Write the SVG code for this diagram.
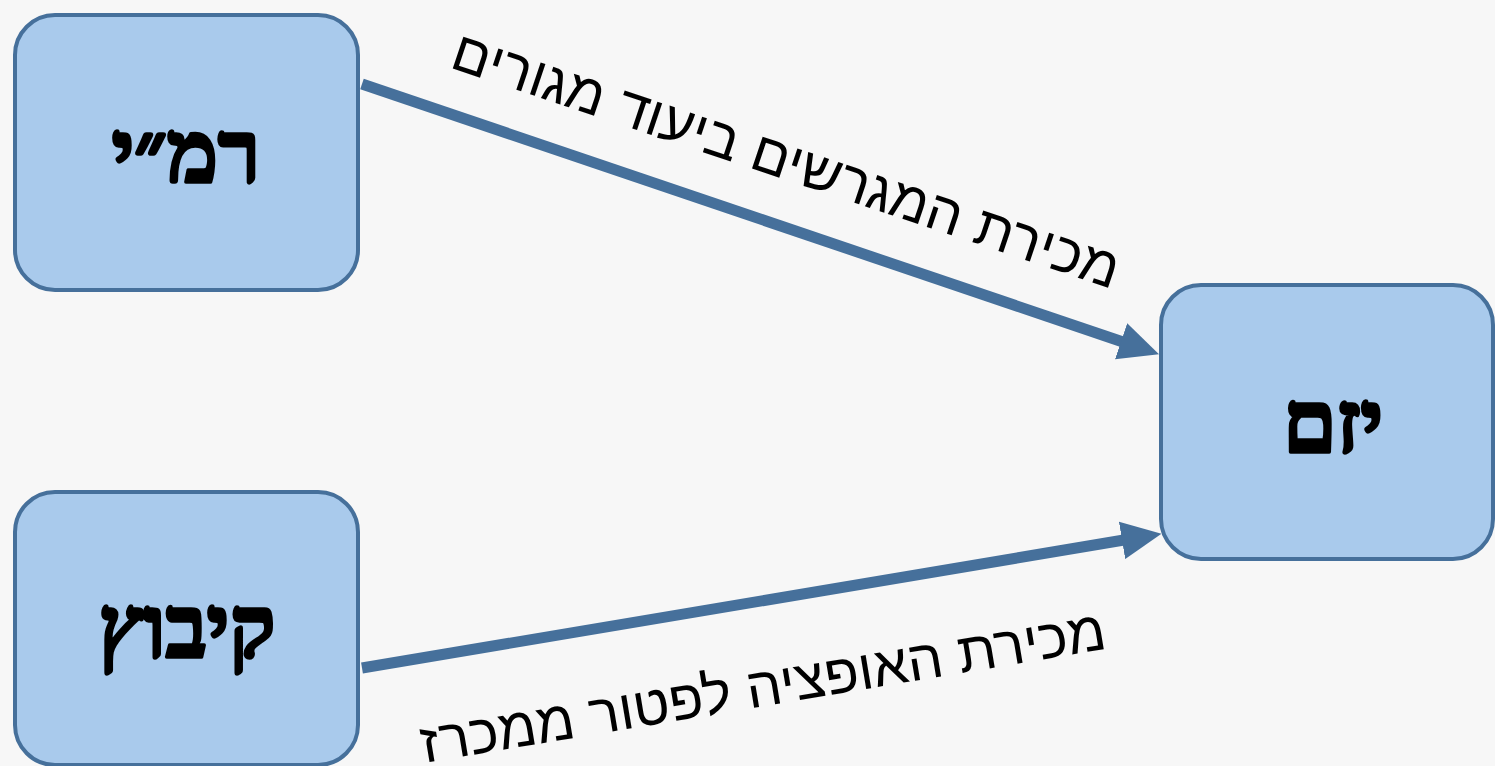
<svg xmlns="http://www.w3.org/2000/svg" width="1495" height="766" viewBox="0 0 1495 766">
  <defs>
    <marker id="arrow" markerUnits="userSpaceOnUse" markerWidth="40" markerHeight="38" refX="2" refY="19" orient="auto" viewBox="0 0 40 38">
      <path d="M0,0 L40,19 L0,38 z" fill="#46709b"/>
    </marker>
    <style>
      .box { fill: #a9caec; stroke: #46709b; stroke-width: 4; }
      .label { font-family: "Liberation Serif", "DejaVu Serif", serif; font-weight: bold; font-size: 86px; fill: #000; stroke: #000; stroke-width: 3.5; stroke-linejoin: round; text-anchor: middle; }
      .edge { stroke: #46709b; stroke-width: 11; fill: none; marker-end: url(#arrow); }
      .elabel { font-family: "Liberation Sans", "DejaVu Sans", sans-serif; font-size: 56px; fill: #000; text-anchor: middle; }
    </style>
  </defs>
  <rect x="0" y="0" width="1495" height="766" fill="#f7f7f7"/>
  <g id="connectors">
    <line class="edge" x1="362" y1="84" x2="1123" y2="342"/>
    <line class="edge" x1="362" y1="668" x2="1124" y2="540"/>
  </g>
  <g id="edge-labels">
    <text class="elabel" transform="translate(786,161) rotate(18.5)" y="18">מכירת המגרשים ביעוד מגורים</text>
    <text class="elabel" transform="translate(763,688) rotate(-9.5)" y="18">מכירת האופציה לפטור ממכרז</text>
  </g>
  <g id="node-rami">
    <rect class="box" x="15" y="15" width="343" height="275" rx="40" ry="40"/>
    <text class="label" x="186" y="182">רמ״י</text>
  </g>
  <g id="node-kibbutz">
    <rect class="box" x="15" y="492" width="343" height="273" rx="40" ry="40"/>
    <text class="label" x="187" y="657">קיבוץ</text>
  </g>
  <g id="node-yazam">
    <rect class="box" x="1161" y="285" width="332" height="274" rx="40" ry="40"/>
    <text class="label" x="1333" y="452">יזם</text>
  </g>
</svg>
